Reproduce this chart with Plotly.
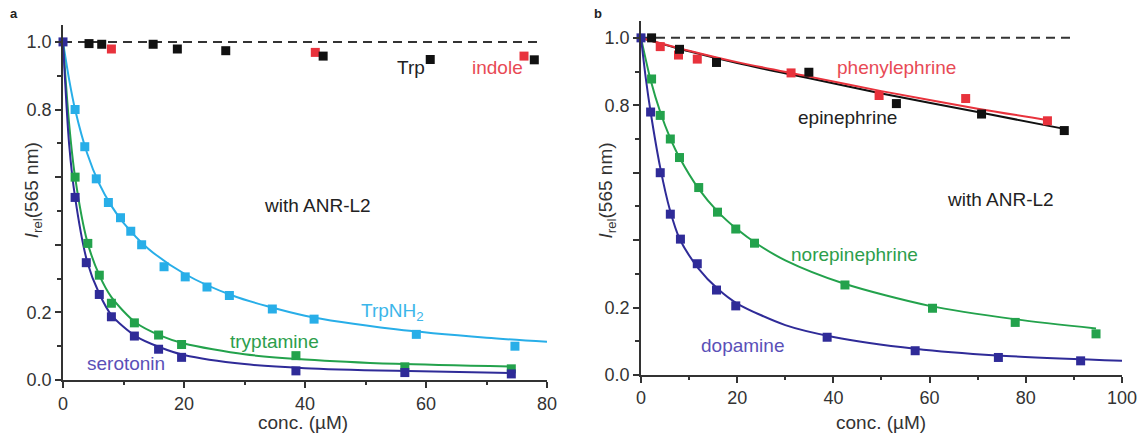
import plotly.graph_objects as go

# ---------------- Panel a data ----------------
trp_x = [4.3, 6.4, 14.9, 18.9, 26.9, 43.0, 60.7, 77.9]
trp_y = [0.995, 0.993, 0.993, 0.979, 0.974, 0.958, 0.948, 0.947]
indole_x = [8.0, 41.7, 76.2]
indole_y = [0.979, 0.969, 0.958]

trpnh2_x = [2.0, 3.6, 5.5, 7.5, 9.5, 11.2, 13.0, 16.7, 20.2, 23.8, 27.5, 34.6, 41.5, 58.4, 74.7]
trpnh2_y = [0.80, 0.69, 0.595, 0.525, 0.48, 0.44, 0.40, 0.335, 0.305, 0.275, 0.25, 0.21, 0.18, 0.135, 0.10]
trpnh2_fit_x = [0, 1, 2, 4, 6, 8, 10, 14, 20, 28, 40, 55, 70, 80]
trpnh2_fit_y = [1.0, 0.89, 0.80, 0.67, 0.58, 0.515, 0.465, 0.39, 0.315, 0.25, 0.19, 0.15, 0.125, 0.113]

tryp_x = [2.0, 4.1, 6.0, 8.0, 11.8, 15.8, 19.6, 38.5, 56.5, 74.1]
tryp_y = [0.60, 0.404, 0.31, 0.227, 0.169, 0.133, 0.105, 0.072, 0.039, 0.033]
tryp_fit_x = [0, 1, 2, 4, 6, 8, 12, 16, 20, 30, 40, 55, 74]
tryp_fit_y = [1.0, 0.76, 0.60, 0.41, 0.31, 0.245, 0.17, 0.132, 0.108, 0.076, 0.061, 0.048, 0.04]

sero_x = [0, 2.0, 3.85, 6.0, 8.0, 11.8, 15.8, 19.6, 38.5, 56.5, 74.1]
sero_y = [1.0, 0.54, 0.347, 0.253, 0.187, 0.130, 0.091, 0.067, 0.027, 0.022, 0.018]
sero_fit_x = [0, 1, 2, 4, 6, 8, 12, 16, 20, 30, 40, 55, 74]
sero_fit_y = [1.0, 0.70, 0.54, 0.35, 0.255, 0.192, 0.13, 0.097, 0.074, 0.047, 0.035, 0.027, 0.021]

# ---------------- Panel b data ----------------
epi_x = [2.2, 8.0, 15.7, 34.9, 53.1, 70.8, 88.0]
epi_y = [1.0, 0.966, 0.927, 0.898, 0.805, 0.774, 0.725]
epi_fit_x = [0, 10, 20, 35, 50, 70, 88]
epi_fit_y = [1.0, 0.96, 0.925, 0.88, 0.835, 0.78, 0.73]

phe_x = [4.0, 7.8, 11.7, 31.2, 49.5, 67.5, 84.5]
phe_y = [0.974, 0.949, 0.937, 0.896, 0.829, 0.82, 0.754]
phe_fit_x = [0, 10, 20, 35, 50, 70, 85]
phe_fit_y = [1.0, 0.962, 0.928, 0.885, 0.842, 0.79, 0.755]

nor_x = [2.2, 4.0, 6.1, 8.0, 12.0, 15.9, 19.7, 23.6, 42.4, 60.6, 77.8, 94.6]
nor_y = [0.878, 0.77, 0.70, 0.645, 0.556, 0.483, 0.433, 0.391, 0.267, 0.198, 0.156, 0.122]
nor_fit_x = [0, 2, 4, 6, 8, 12, 16, 20, 24, 30, 42, 60, 78, 94.6]
nor_fit_y = [1.0, 0.875, 0.78, 0.705, 0.645, 0.552, 0.484, 0.432, 0.39, 0.34, 0.272, 0.205, 0.165, 0.138]

dop_x = [0, 2.0, 4.0, 6.1, 8.2, 11.7, 15.7, 19.7, 38.7, 57.0, 74.3, 91.4]
dop_y = [1.0, 0.78, 0.60, 0.477, 0.403, 0.33, 0.252, 0.205, 0.112, 0.072, 0.052, 0.042]
dop_fit_x = [0, 1, 2, 4, 6, 8, 12, 16, 20, 30, 40, 57, 74, 100]
dop_fit_y = [1.0, 0.88, 0.78, 0.615, 0.49, 0.405, 0.315, 0.255, 0.212, 0.148, 0.113, 0.078, 0.058, 0.042]

x_ticks_a = [0, 20, 40, 60, 80]
x_ticks_b = [0, 20, 40, 60, 80, 100]
y_ticks = [0.0, 0.2, 0.4, 0.6, 0.8, 1.0]
y_ticktext = ["0.0", "0.2", "", "", "0.8", "1.0"]

INDIGO = "#2f2b98"
GREEN = "#23a24c"
LBLUE = "#28aee8"
RED = "#e8323c"
BLACK = "#111111"

FONT = "Liberation Sans, Arial, Helvetica, sans-serif"

fig = go.Figure()


def curve(x, y, color, xa, ya):
    fig.add_trace(go.Scatter(x=x, y=y, mode="lines", line=dict(color=color, width=2, shape="spline", smoothing=0.8),
                             xaxis=xa, yaxis=ya, showlegend=False, hoverinfo="skip"))


def pts(x, y, color, xa, ya, size=9):
    fig.add_trace(go.Scatter(x=x, y=y, mode="markers", marker=dict(symbol="square", size=size, color=color, line=dict(width=0)),
                             xaxis=xa, yaxis=ya, showlegend=False, cliponaxis=False))


# dashed reference lines
fig.add_trace(go.Scatter(x=[0, 78.5], y=[1, 1], mode="lines", line=dict(color="#333", width=2, dash="9px,6px"),
                         xaxis="x", yaxis="y", showlegend=False))
fig.add_trace(go.Scatter(x=[0, 90], y=[1, 1], mode="lines", line=dict(color="#333", width=2, dash="9px,6px"),
                         xaxis="x2", yaxis="y2", showlegend=False))

# panel a
curve(trpnh2_fit_x, trpnh2_fit_y, LBLUE, "x", "y")
curve(tryp_fit_x, tryp_fit_y, GREEN, "x", "y")
curve(sero_fit_x, sero_fit_y, INDIGO, "x", "y")
pts(trpnh2_x, trpnh2_y, LBLUE, "x", "y")
pts(tryp_x, tryp_y, GREEN, "x", "y")
pts(sero_x, sero_y, INDIGO, "x", "y")
pts(indole_x, indole_y, RED, "x", "y")
pts(trp_x, trp_y, BLACK, "x", "y")

# panel b
curve(nor_fit_x, nor_fit_y, GREEN, "x2", "y2")
curve(dop_fit_x, dop_fit_y, INDIGO, "x2", "y2")
curve(epi_fit_x, epi_fit_y, BLACK, "x2", "y2")
curve(phe_fit_x, phe_fit_y, RED, "x2", "y2")
pts(nor_x, nor_y, GREEN, "x2", "y2")
pts(dop_x, dop_y, INDIGO, "x2", "y2")
pts(phe_x, phe_y, RED, "x2", "y2")
pts(epi_x, epi_y, BLACK, "x2", "y2")

axis_common = dict(showline=True, linecolor="#333", linewidth=1.8, ticks="outside", ticklen=6, tickwidth=1.5,
                   tickcolor="#333", showgrid=False, zeroline=False, tickfont=dict(family=FONT, size=18, color="#333"),
                   fixedrange=True)

fig.update_layout(
    width=1144, height=437,
    margin=dict(l=0, r=0, t=0, b=0),
    paper_bgcolor="white", plot_bgcolor="white",
    font=dict(family=FONT, color="#333"),
    xaxis=dict(domain=[0.05507, 0.47815], range=[0, 80], tickvals=x_ticks_a, anchor="y",
               minor=dict(dtick=10, ticks="outside", ticklen=3, tickcolor="#333"), automargin=False, **axis_common),
    yaxis=dict(domain=[0.13043, 0.94279], range=[0, 1.05], tickvals=y_ticks, ticktext=y_ticktext, anchor="x",
               minor=dict(dtick=0.1, ticks="outside", ticklen=4, tickcolor="#333"), automargin=False, **axis_common),
    xaxis2=dict(domain=[0.56031, 0.98077], range=[0, 100], tickvals=x_ticks_b, anchor="y2",
                minor=dict(dtick=10, ticks="outside", ticklen=3, tickcolor="#333"), automargin=False, **axis_common),
    yaxis2=dict(domain=[0.14188, 0.95195], range=[0, 1.05], tickvals=y_ticks, ticktext=y_ticktext, anchor="x2",
                minor=dict(dtick=0.1, ticks="outside", ticklen=4, tickcolor="#333"), automargin=False, **axis_common),
)

ann = []


def txt(x, y, text, color, xref, yref, size=19, **kw):
    ann.append(dict(x=x, y=y, xref=xref, yref=yref, text=text, showarrow=False,
                    xanchor="center", yanchor="middle",
                    font=dict(family=FONT, size=size, color=color), **kw))


# panel a labels
txt(57.6, 0.925, "Trp", "#222", "x", "y")
txt(71.8, 0.925, "indole", "#e84a55", "x", "y")
txt(42.1, 0.515, "with ANR-L2", "#222", "x", "y")
txt(54.4, 0.20, "TrpNH<sub>2</sub>", "#3cb6ea", "x", "y")
txt(34.9, 0.113, "tryptamine", "#2c9e4c", "x", "y")
txt(10.4, 0.049, "serotonin", "#5a50b8", "x", "y")

# panel b labels
txt(53.1, 0.911, "phenylephrine", "#e84a55", "x2", "y2")
txt(43.0, 0.763, "epinephrine", "#222", "x2", "y2")
txt(74.7, 0.52, "with ANR-L2", "#222", "x2", "y2")
txt(44.3, 0.356, "norepinephrine", "#2c9e4c", "x2", "y2")
txt(21.0, 0.087, "dopamine", "#5a50b8", "x2", "y2")

# axis titles
txt(0.2651, 0.034, "conc. (µM)", "#333", "paper", "paper")
txt(0.7705, 0.034, "conc. (µM)", "#333", "paper", "paper")
txt(0.029, 0.565, "<i>I</i><sub>rel</sub>(565 nm)", "#333", "paper", "paper", textangle=-90)
txt(0.531, 0.565, "<i>I</i><sub>rel</sub>(565 nm)", "#333", "paper", "paper", textangle=-90)

# panel letters
txt(0.0122, 0.970, "<b>a</b>", "#222", "paper", "paper", size=13)
txt(0.5227, 0.970, "<b>b</b>", "#222", "paper", "paper", size=13)

fig.update_layout(annotations=ann)
fig.write_html("out.html", config={"displayModeBar": False},
               post_script="document.body.style.margin='0';document.body.style.padding='0';")
